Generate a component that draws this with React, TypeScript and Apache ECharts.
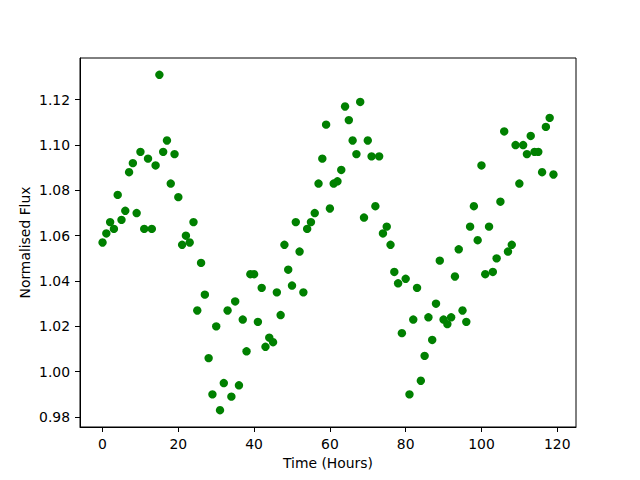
import React, { useEffect, useRef } from "react";
import * as echarts from "echarts";

const hours: number[] = Array.from({ length: 120 }, (_, i) => i);

const flux: number[] = [
  1.057, 1.061, 1.066, 1.063, 1.078, 1.067, 1.071, 1.088, 1.092, 1.070,
  1.097, 1.063, 1.094, 1.063, 1.091, 1.131, 1.097, 1.102, 1.083, 1.096,
  1.077, 1.056, 1.060, 1.057, 1.066, 1.027, 1.048, 1.034, 1.006, 0.990,
  1.020, 0.983, 0.995, 1.027, 0.989, 1.031, 0.994, 1.023, 1.009, 1.043,
  1.043, 1.022, 1.037, 1.011, 1.015, 1.013, 1.035, 1.025, 1.056, 1.045,
  1.038, 1.066, 1.053, 1.035, 1.063, 1.066, 1.070, 1.083, 1.094, 1.109,
  1.072, 1.083, 1.084, 1.089, 1.117, 1.111, 1.102, 1.096, 1.119, 1.068,
  1.102, 1.095, 1.073, 1.095, 1.061, 1.064, 1.056, 1.044, 1.039, 1.017,
  1.041, 0.990, 1.023, 1.037, 0.996, 1.007, 1.024, 1.014, 1.030, 1.049,
  1.023, 1.021, 1.024, 1.042, 1.054, 1.027, 1.022, 1.064, 1.073, 1.058,
  1.091, 1.043, 1.064, 1.044, 1.050, 1.075, 1.106, 1.053, 1.056, 1.100,
  1.083, 1.100, 1.096, 1.104, 1.097, 1.097, 1.088, 1.108, 1.112, 1.087,
];

const xTicks: number[] = [0, 20, 40, 60, 80, 100, 120];
const yTicks: number[] = [0.98, 1.0, 1.02, 1.04, 1.06, 1.08, 1.1, 1.12];

const FONT = "DejaVu Sans";

export default function App() {
  const ref = useRef<HTMLDivElement>(null);
  useEffect(() => {
    if (!ref.current) return;
    const chart = echarts.init(ref.current, null, { renderer: "svg" });
    const xMin = -5.95;
    const xMax = 124.95;
    const yMin = 0.9756;
    const yMax = 1.1384;
    chart.setOption({
      animation: false,
      backgroundColor: "#ffffff",
      textStyle: { fontFamily: FONT },
      grid: {
        left: 80,
        right: 64,
        top: 58,
        bottom: 53,
        show: true,
        borderColor: "#000000",
        borderWidth: 1,
        backgroundColor: "transparent",
      },
      xAxis: {
        type: "value",
        min: xMin,
        max: xMax,
        name: "Time (Hours)",
        nameLocation: "middle",
        nameGap: 29,
        nameTextStyle: { color: "#000", fontSize: 13.9, fontFamily: FONT },
        splitLine: { show: false },
        axisLine: { show: true, onZero: false, lineStyle: { color: "#000", width: 1 } },
        axisTick: {
          show: true,
          length: 5,
          inside: false,
          customValues: xTicks,
          lineStyle: { color: "#000", width: 1 },
        },
        axisLabel: {
          show: true,
          margin: 10,
          color: "#000",
          fontSize: 13.9,
          fontFamily: FONT,
          customValues: xTicks,
          formatter: (v: number) => String(Math.round(v)),
        },
      },
      yAxis: {
        type: "value",
        min: yMin,
        max: yMax,
        name: "Normalised Flux",
        nameLocation: "middle",
        nameGap: 48,
        nameMoveOverlap: false,
        nameRotate: 90,
        nameTextStyle: { color: "#000", fontSize: 13.9, fontFamily: FONT },
        splitLine: { show: false },
        axisLine: { show: true, onZero: false, lineStyle: { color: "#000", width: 1 } },
        axisTick: {
          show: true,
          length: 5,
          inside: false,
          customValues: yTicks,
          lineStyle: { color: "#000", width: 1 },
        },
        axisLabel: {
          show: true,
          margin: 10,
          color: "#000",
          fontSize: 13.9,
          fontFamily: FONT,
          customValues: yTicks,
          formatter: (v: number) => v.toFixed(2),
        },
      },
      series: [
        {
          type: "scatter",
          data: hours.map((h, i) => [h, flux[i]]),
          symbol: "circle",
          symbolSize: 8.4,
          itemStyle: { color: "#008000", opacity: 1 },
        },
      ],
    });
    return () => chart.dispose();
  }, []);
  return <div ref={ref} style={{ width: 640, height: 480, position: "absolute", left: 0, top: 0 }} />;
}
